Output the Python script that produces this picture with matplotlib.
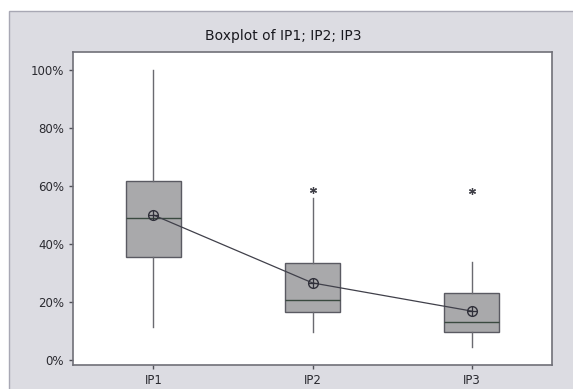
import matplotlib
matplotlib.use("Agg")
import matplotlib.pyplot as plt
from matplotlib.patches import Rectangle
from matplotlib.ticker import FuncFormatter

categories = ["IP1", "IP2", "IP3"]
whisker_low = [11.4, 9.7, 4.5]
q1 = [35.5, 16.6, 9.7]
median = [49.0, 20.7, 13.1]
q3 = [61.7, 33.4, 23.1]
whisker_high = [100.0, 56.0, 33.8]
means = [50.0, 26.6, 16.9]
outliers = [[], [58.6], [58.3]]
yticks = [0, 20, 40, 60, 80, 100]

fig = plt.figure(figsize=(5.73, 3.89), dpi=100)
fig.patch.set_facecolor("white")
bg = Rectangle((9/573, -0.01), 1.01 - 9/573, (389 - 11)/389 + 0.01, transform=fig.transFigure,
               facecolor="#dcdce2", edgecolor="#a8a8b4", linewidth=1.0, zorder=-10)
fig.patches.append(bg)

ax = fig.add_axes([73/573, 1 - 365/389, (552 - 73)/573, (365 - 52)/389])
ax.set_zorder(1)
ax.set_facecolor("white")

stats = []
for i, c in enumerate(categories):
    stats.append(dict(label=c, whislo=whisker_low[i], q1=q1[i], med=median[i],
                      q3=q3[i], whishi=whisker_high[i], fliers=outliers[i]))

pos = list(range(1, len(categories) + 1))
ax.bxp(stats, positions=pos, widths=0.34, patch_artist=True, showcaps=False,
       boxprops=dict(facecolor="#a9a9ab", edgecolor="#5a5a62", linewidth=1.0),
       medianprops=dict(color="#3a4a40", linewidth=1.0),
       whiskerprops=dict(color="#6a6a70", linewidth=1.0),
       flierprops=dict(marker=(6, 2, 0), markersize=5, markeredgecolor="#404048",
                       markeredgewidth=0.9, linestyle="none"))

ax.plot(pos, means, color="#40404a", linewidth=0.9, zorder=5)
ax.plot(pos, means, linestyle="none", marker="o", markersize=7, markerfacecolor="none",
        markeredgecolor="#30303a", markeredgewidth=1.0, zorder=6)
ax.plot(pos, means, linestyle="none", marker="+", markersize=7,
        markeredgecolor="#30303a", markeredgewidth=0.9, zorder=6)

ax.set_xlim(0.494, 3.506)
ax.set_ylim(-1.7, 106.2)
ax.set_yticks(yticks)
ax.yaxis.set_major_formatter(FuncFormatter(lambda v, p: f"{v:.0f}%"))
ax.set_xticks(pos)
ax.set_xticklabels(categories)

for s in ax.spines.values():
    s.set_color("#707078")
    s.set_linewidth(1.2)
ax.tick_params(axis="both", colors="#505058", labelcolor="#2a2a30", labelsize=8.5,
               length=3, width=1.0, direction="out")

fig.text(283 / 573, 1 - 36 / 389, "Boxplot of IP1; IP2; IP3",
         ha="center", va="center", fontsize=10, color="#1a1a20")

fig.savefig("out.png", dpi=100, facecolor=fig.get_facecolor())
